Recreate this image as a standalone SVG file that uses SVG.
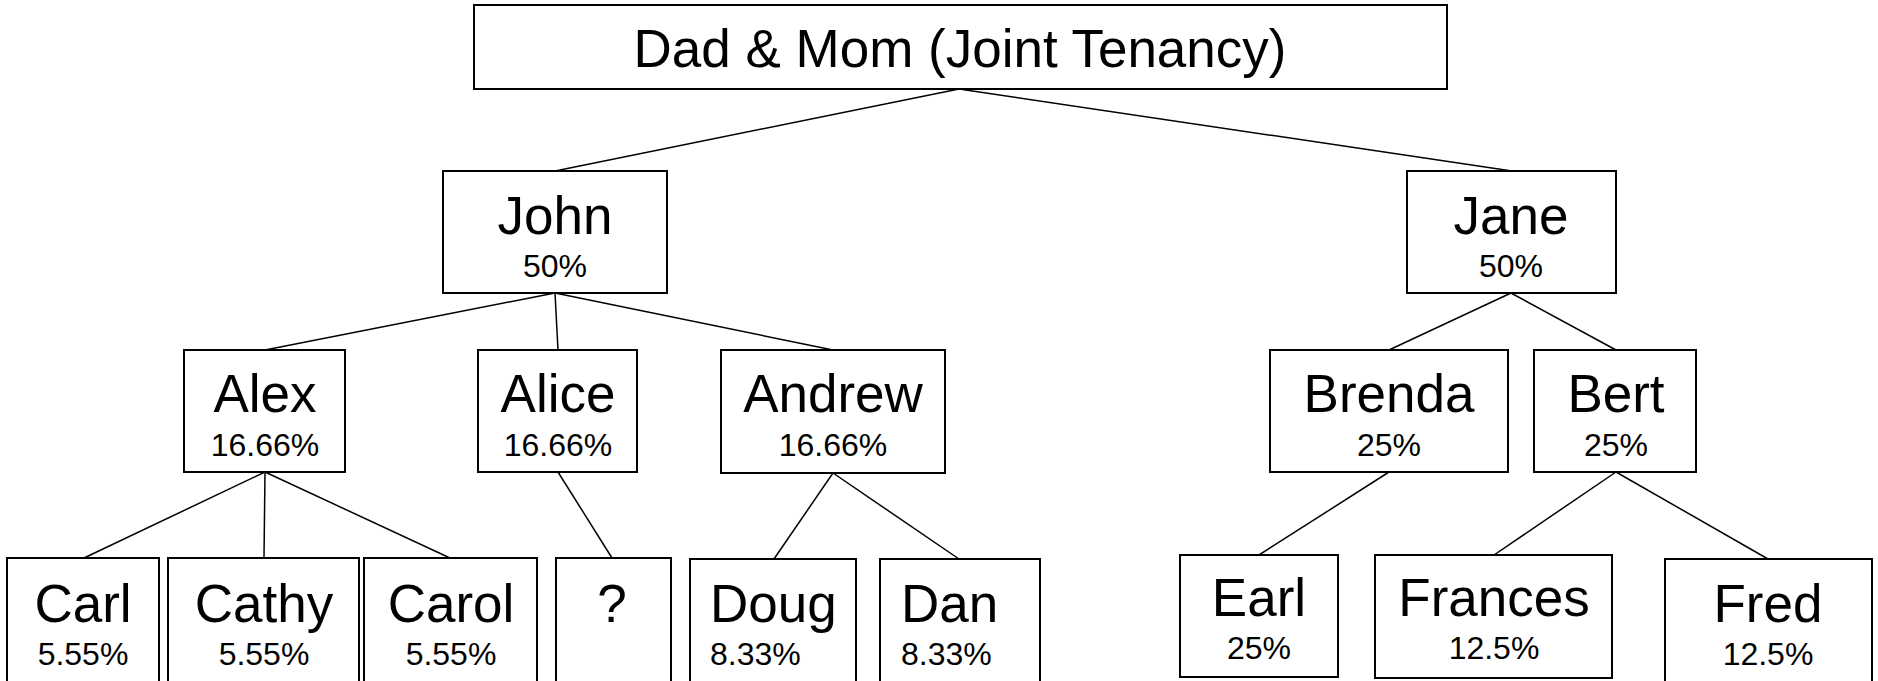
<svg xmlns="http://www.w3.org/2000/svg" width="1878" height="681" viewBox="0 0 1878 681">
<style>
rect{fill:#fff;stroke:#000;stroke-width:2}
text{font-family:"Liberation Sans",Arial,sans-serif;fill:#000;text-anchor:middle}
.n{font-size:53px}
.p{font-size:32px}
.l{text-anchor:start}
#connectors line{stroke:#000;stroke-width:1.5}
</style>
<rect x="0" y="0" width="1878" height="681" style="fill:#fff;stroke:none"/>
<g id="connectors">
<line x1="959" y1="89" x2="555" y2="171"/>
<line x1="959" y1="89" x2="1512" y2="171"/>
<line x1="555" y1="293" x2="265" y2="350"/>
<line x1="555" y1="293" x2="558" y2="350"/>
<line x1="555" y1="293" x2="833" y2="350"/>
<line x1="1511" y1="293" x2="1389" y2="350"/>
<line x1="1511" y1="293" x2="1616" y2="350"/>
<line x1="265" y1="472" x2="84" y2="558"/>
<line x1="265" y1="472" x2="264" y2="558"/>
<line x1="265" y1="472" x2="450" y2="558"/>
<line x1="558" y1="472" x2="612" y2="558"/>
<line x1="833" y1="473" x2="774" y2="559"/>
<line x1="833" y1="473" x2="959" y2="559"/>
<line x1="1389" y1="472" x2="1259" y2="555"/>
<line x1="1616" y1="472" x2="1494" y2="555"/>
<line x1="1616" y1="472" x2="1768" y2="559"/>
</g>
<g id="root"><rect x="474" y="5" width="973" height="84"/><text class="n" x="960" y="67">Dad &amp; Mom (Joint Tenancy)</text></g>
<g id="john"><rect x="443" y="171" width="224" height="122"/><text class="n" x="555" y="234">John</text><text class="p" x="555" y="277">50%</text></g>
<g id="jane"><rect x="1407" y="171" width="209" height="122"/><text class="n" x="1511" y="234">Jane</text><text class="p" x="1511" y="277">50%</text></g>
<g id="alex"><rect x="184" y="350" width="161" height="122"/><text class="n" x="265" y="412">Alex</text><text class="p" x="265" y="456">16.66%</text></g>
<g id="alice"><rect x="478" y="350" width="159" height="122"/><text class="n" x="558" y="412">Alice</text><text class="p" x="558" y="456">16.66%</text></g>
<g id="andrew"><rect x="721" y="350" width="224" height="123"/><text class="n" x="833" y="412">Andrew</text><text class="p" x="833" y="456">16.66%</text></g>
<g id="brenda"><rect x="1270" y="350" width="238" height="122"/><text class="n" x="1389" y="412">Brenda</text><text class="p" x="1389" y="456">25%</text></g>
<g id="bert"><rect x="1534" y="350" width="162" height="122"/><text class="n" x="1616" y="412">Bert</text><text class="p" x="1616" y="456">25%</text></g>
<g id="carl"><rect x="7" y="558" width="152" height="140"/><text class="n" x="83" y="622">Carl</text><text class="p" x="83" y="665">5.55%</text></g>
<g id="cathy"><rect x="168" y="558" width="191" height="140"/><text class="n" x="264" y="622">Cathy</text><text class="p" x="264" y="665">5.55%</text></g>
<g id="carol"><rect x="364" y="558" width="173" height="140"/><text class="n" x="451" y="622">Carol</text><text class="p" x="451" y="665">5.55%</text></g>
<g id="unknown"><rect x="556" y="558" width="115" height="140"/><text class="n" x="612" y="622">?</text></g>
<g id="doug"><rect x="690" y="559" width="166" height="140"/><text class="n l" x="710" y="622">Doug</text><text class="p l" x="710" y="665">8.33%</text></g>
<g id="dan"><rect x="880" y="559" width="160" height="140"/><text class="n l" x="901" y="622">Dan</text><text class="p l" x="901" y="665">8.33%</text></g>
<g id="earl"><rect x="1180" y="555" width="158" height="122"/><text class="n" x="1259" y="616">Earl</text><text class="p" x="1259" y="659">25%</text></g>
<g id="frances"><rect x="1375" y="555" width="237" height="123"/><text class="n" x="1494" y="616">Frances</text><text class="p" x="1494" y="659">12.5%</text></g>
<g id="fred"><rect x="1665" y="559" width="207" height="140"/><text class="n" x="1768" y="622">Fred</text><text class="p" x="1768" y="665">12.5%</text></g>
</svg>
